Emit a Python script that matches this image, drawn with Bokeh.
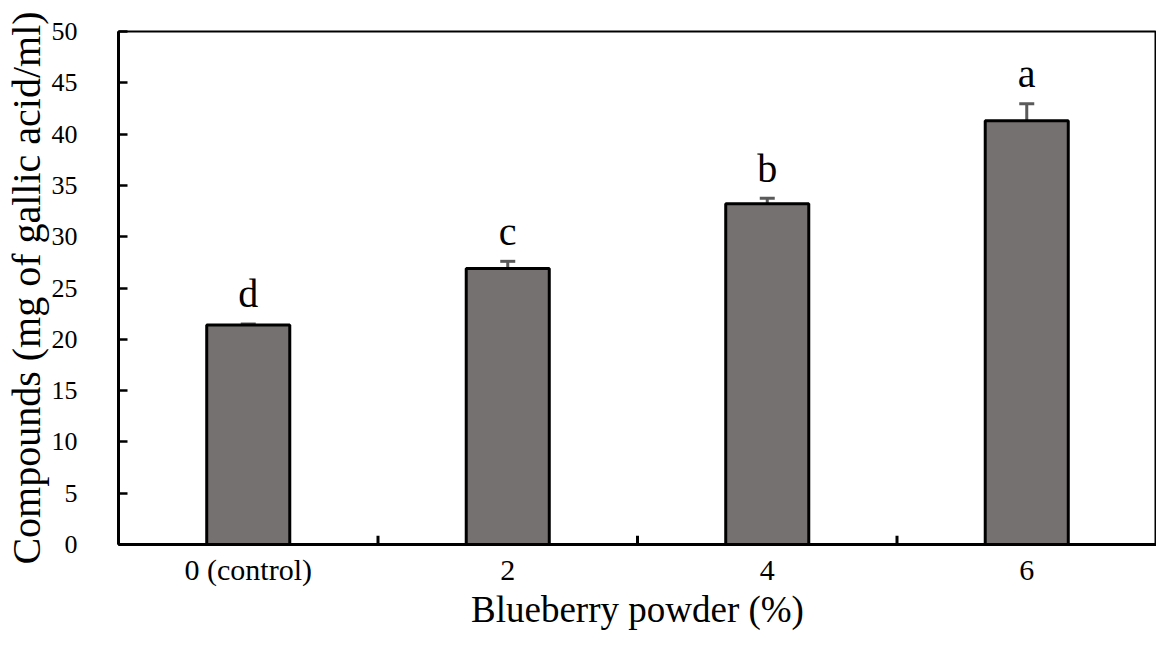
from bokeh.plotting import figure
from bokeh.models import ColumnDataSource, Whisker, FixedTicker, TeeHead, FactorRange
from bokeh.core.properties import value
from bokeh.embed import file_html
from bokeh.resources import INLINE

categories = ["0 (control)", "2", "4", "6"]
means = [21.4, 26.9, 33.2, 41.3]
errors = [0.1, 0.7, 0.55, 1.65]
letters = ["d", "c", "b", "a"]
y_ticks = list(range(0, 51, 5))

FONT = "Liberation Serif"
BAR = "#767171"
ERR = "#5a5a5a"

src = ColumnDataSource(dict(
    cat=categories,
    mean=means,
    lo=[m - e for m, e in zip(means, errors)],
    hi=[m + e for m, e in zip(means, errors)],
    letter=letters,
))

p = figure(width=1156, height=632, x_range=FactorRange(*categories), y_range=(0, 50),
           output_backend="svg", toolbar_location=None,
           min_border_left=111, min_border_right=0, min_border_top=31, min_border_bottom=86)

p.vbar(x="cat", top="mean", width=0.32, source=src, fill_color=BAR,
       line_color="black", line_width=3)

w = Whisker(base="cat", upper="hi", lower="lo", source=src,
            line_color=ERR, line_width=3,
            upper_head=TeeHead(size=15, line_color=ERR, line_width=3),
            lower_head=TeeHead(size=15, line_color=ERR, line_width=3))
p.add_layout(w)

p.text(x="cat", y="hi", text="letter", source=src, text_align="center",
       text_baseline="alphabetic", y_offset=-30, text_font=value(FONT),
       text_font_size="40px", text_color="black")

# tick marks at category boundaries on the x axis
bounds = [i for i in range(1, len(categories))]
p.segment(x0=bounds, y0=[0] * len(bounds), x1=bounds, y1=[0.85] * len(bounds),
          line_color="black", line_width=3)

p.grid.visible = False
p.outline_line_color = "black"
p.outline_line_width = 2
p.background_fill_color = "white"
p.border_fill_color = "white"

ya = p.yaxis[0]
ya.ticker = FixedTicker(ticks=y_ticks)
ya.minor_tick_line_color = None
ya.major_tick_in = 9
ya.major_tick_out = 0
ya.major_tick_line_width = 2.5
ya.axis_line_width = 3
ya.axis_line_color = "black"
ya.major_tick_line_color = "black"
ya.major_label_text_font = FONT
ya.major_label_text_font_size = "26px"
ya.major_label_text_color = "black"
ya.major_label_standoff = 41
ya.axis_label = "Compounds (mg of gallic acid/ml)"
ya.axis_label_text_font = FONT
ya.axis_label_text_font_size = "40px"
ya.axis_label_text_font_style = "normal"
ya.axis_label_text_color = "black"
ya.axis_label_standoff = 0

xa = p.xaxis[0]
xa.major_tick_in = 0
xa.major_tick_out = 0
xa.axis_line_width = 3
xa.axis_line_color = "black"
xa.major_label_text_font = FONT
xa.major_label_text_font_size = "30px"
xa.major_label_text_color = "black"
xa.major_label_standoff = 8
xa.axis_label = "Blueberry powder (%)"
xa.axis_label_text_font = FONT
xa.axis_label_text_font_size = "37px"
xa.axis_label_text_font_style = "normal"
xa.axis_label_text_color = "black"
xa.axis_label_standoff = 0

open("out.html", "w").write(file_html(p, INLINE))
